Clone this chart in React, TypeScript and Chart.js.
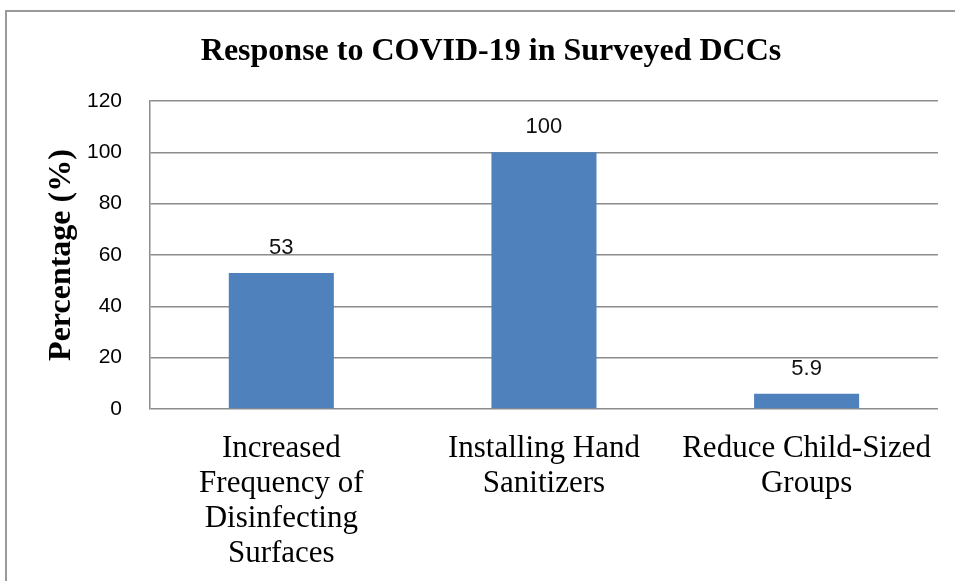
import React, { useEffect, useRef } from "react";
import { Chart, registerables } from "chart.js";

Chart.register(...registerables);

// Survey results: share of day-care centres taking each measure
const categories: string[][] = [
  ["Increased", "Frequency of", "Disinfecting", "Surfaces"],
  ["Installing Hand", "Sanitizers"],
  ["Reduce Child-Sized", "Groups"],
];
const percentages: number[] = [53, 100, 5.9];
const valueLabels: string[] = ["53", "100", "5.9"];
const yTicks: number[] = [0, 20, 40, 60, 80, 100, 120];

const chartTitle = "Response to COVID-19 in Surveyed DCCs";
const yAxisTitle = "Percentage (%)";

const BAR_COLOR = "#4F81BD";
const GRID_COLOR = "#8c8c8c";
const SERIF = "'Liberation Serif', 'Times New Roman', serif";
const SANS = "'Liberation Sans', Arial, sans-serif";

// Grey frame (top and left edges visible) plus the centred chart title
const framePlugin = {
  id: "frame",
  beforeDraw(chart: any) {
    const ctx = chart.ctx;
    ctx.save();
    ctx.fillStyle = "#ffffff";
    ctx.fillRect(0, 0, chart.width, chart.height);
    ctx.strokeStyle = "#9a9a9a";
    ctx.lineWidth = 2;
    ctx.beginPath();
    ctx.moveTo(6, chart.height + 5);
    ctx.lineTo(6, 11);
    ctx.lineTo(chart.width + 5, 11);
    ctx.stroke();

    ctx.fillStyle = "#000000";
    ctx.font = `bold 32px ${SERIF}`;
    ctx.textAlign = "center";
    ctx.textBaseline = "alphabetic";
    ctx.fillText(chartTitle, (6 + chart.width + 21) / 2, 60);
    ctx.restore();
  },
};

// Value labels above each bar
const valueLabelPlugin = {
  id: "valueLabels",
  afterDatasetsDraw(chart: any) {
    const ctx = chart.ctx;
    const meta = chart.getDatasetMeta(0);
    ctx.save();
    ctx.font = `22px ${SANS}`;
    ctx.fillStyle = "#111111";
    ctx.textAlign = "center";
    ctx.textBaseline = "alphabetic";
    meta.data.forEach((bar: any, i: number) => {
      ctx.fillText(valueLabels[i], bar.x, bar.y - 19);
    });
    ctx.restore();
  },
};

export default function App() {
  const canvasRef = useRef<HTMLCanvasElement | null>(null);

  useEffect(() => {
    const canvas = canvasRef.current;
    if (!canvas) return;
    const chart = new Chart(canvas, {
      type: "bar",
      data: {
        labels: categories,
        datasets: [
          {
            data: percentages,
            backgroundColor: BAR_COLOR,
            borderWidth: 0,
            barPercentage: 0.4,
            categoryPercentage: 1,
          },
        ],
      },
      options: {
        animation: false,
        responsive: false,
        devicePixelRatio: 1,
        layout: { padding: { left: 0, right: 12, top: 101, bottom: 0 } },
        plugins: {
          legend: { display: false },
          tooltip: { enabled: false },
          title: { display: false },
        },
        scales: {
          x: {
            grid: { display: false, drawTicks: false },
            border: { display: false },
            ticks: {
              color: "#000000",
              padding: 22,
              maxRotation: 0,
              autoSkip: false,
              font: { family: SERIF, size: 31, lineHeight: 1.13 },
            },
            afterFit(scale: any) {
              scale.height = 172;
            },
          },
          y: {
            min: 0,
            max: 120,
            afterBuildTicks(scale: any) {
              scale.ticks = yTicks.map((v) => ({ value: v }));
            },
            grid: { color: GRID_COLOR, lineWidth: 1.5, drawTicks: false },
            border: { display: true, color: GRID_COLOR, width: 1.5 },
            ticks: {
              color: "#000000",
              padding: 28,
              font: { family: SANS, size: 21 },
            },
            title: {
              display: true,
              text: yAxisTitle,
              color: "#000000",
              font: { family: SERIF, size: 32, weight: "bold", lineHeight: 1.2 },
              padding: { top: 43, bottom: 0 },
            },
            afterFit(scale: any) {
              scale.width = 150;
            },
          },
        },
      },
      plugins: [framePlugin, valueLabelPlugin],
    });
    return () => chart.destroy();
  }, []);

  return (
    <div style={{ position: "fixed", left: 0, top: 0, width: 955, height: 581, background: "#fff" }}>
      <canvas ref={canvasRef} width={955} height={581} style={{ display: "block" }} />
    </div>
  );
}
